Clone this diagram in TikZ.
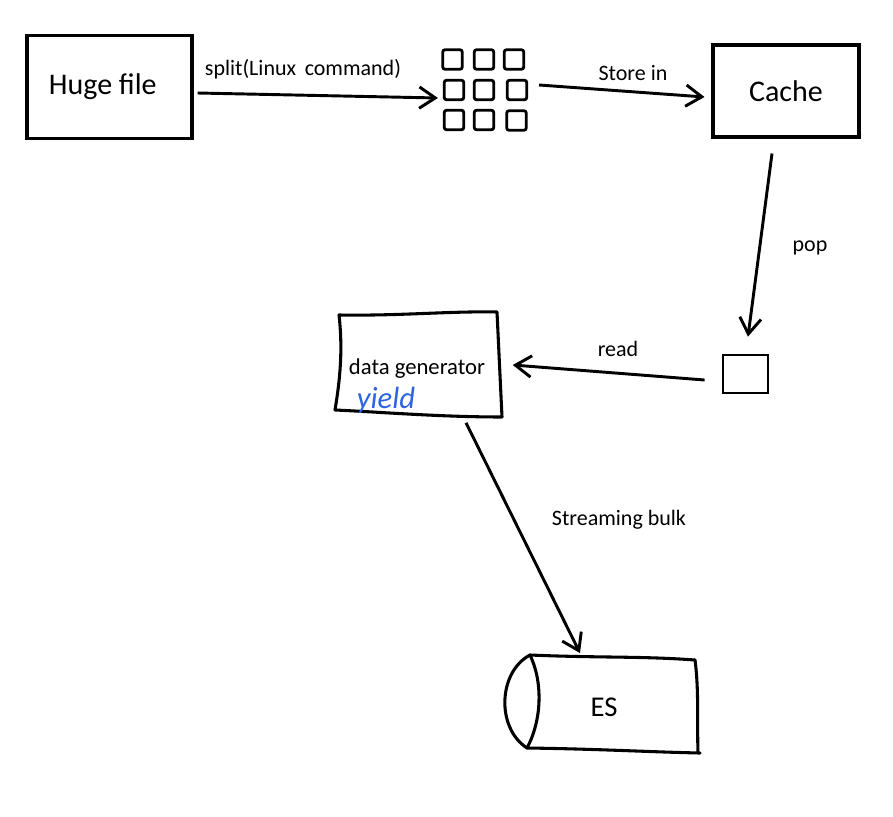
\documentclass[tikz,border=0pt]{standalone}
\usepackage{fontspec}
\setmainfont{Carlito}
\usetikzlibrary{arrows.meta,calc}
\definecolor{penblue}{RGB}{45,100,225}
\tikzset{
  bigbox/.style={draw, line width=2.3pt, minimum width=123.75pt, minimum height=77pt, inner sep=0pt, font=\fontsize{22.5}{26}\selectfont},
  cell/.style={draw, line width=2.1pt, rounded corners=1.5pt, minimum width=14.5pt, minimum height=14.5pt, inner sep=0pt},
  lbl/.style={font=\fontsize{16.5}{19}\selectfont, inner sep=0pt},
  arr/.style={line width=2.2pt, -{Straight Barb[length=12pt,width=16pt,line width=2.2pt]}},
  hand/.style={line width=2.3pt, line cap=round, line join=round},
  ghost/.style={inner sep=0pt}
}
\begin{document}
\begin{tikzpicture}[x=0.75pt,y=-0.75pt]
\useasboundingbox (0,0) rectangle (893,817);

% Huge file
\node[bigbox] (huge) at (109.5,87) {\hspace*{-10pt}Huge file};
% Cache
\node[bigbox, minimum width=109.5pt, minimum height=69pt] (cache) at (786,91) {Cache};

% grid of chunks
\node[cell] (g11) at (452.5,59.5) {};
\node[cell] (g12) at (484,59.5) {};
\node[cell] (g13) at (514,59.5) {};
\node[cell] (g21) at (454,90) {};
\node[cell] (g22) at (484,90) {};
\node[cell] (g23) at (517,90) {};
\node[cell] (g31) at (454,120) {};
\node[cell] (g32) at (484,120) {};
\node[cell] (g33) at (516.5,120.5) {};

% small square (popped chunk)
\node[draw, line width=2.1pt, minimum width=33.75pt, minimum height=28.5pt, inner sep=0pt] (sq) at (745.5,374) {};

% data generator (hand-drawn box)
\draw[hand] (339,315) .. controls (400,316) and (450,311) .. (497,312)
  -- (502,417) .. controls (440,417) and (380,412) .. (335,410)
  .. controls (340,380) and (343,350) .. (339,315) -- cycle;
\node[ghost, minimum width=120pt, minimum height=78pt] (dg) at (419,364) {};
\node[lbl, font=\fontsize{17}{20}\selectfont] (dgtext) at (417,369) {data generator};
\node[ghost, text=penblue, font=\fontsize{23}{25}\selectfont\itshape] (yield) at (386,400) {yield};

% ES cylinder
\draw[hand] (530,655) .. controls (498,672) and (496,728) .. (527,748);
\draw[hand] (530,655) .. controls (543,682) and (542,720) .. (527,748);
\draw[hand] (530,655) .. controls (600,658) and (640,656) .. (695,660);
\draw[hand] (695,660) .. controls (699,690) and (697,720) .. (698,753);
\draw[hand] (527,748) .. controls (600,749) and (650,752) .. (700,753);
\node[ghost, minimum width=120pt, minimum height=70pt] (es) at (612,704) {};
\node[ghost, font=\fontsize{21.5}{24}\selectfont] (estext) at (604,707) {ES};

% connectors
\draw[arr] ($(huge.east)+(4,6)$) -- ($(g21.west)+(-5,8)$);
\draw[arr] ($(g23.east)+(11,-5)$) -- ($(cache.west)+(-7,6)$);
\draw[arr] ($(cache.south)+(-14,15)$) -- ($(sq.north)+(2.5,-17)$);
\draw[arr] ($(sq.west)+(-17,6)$) -- ($(dg.east)+(13.5,1)$);
\draw[arr] ($(dg.south)+(47,6.5)$) -- ($(es.north)+(-32,-4)$);

% labels
\node[lbl] (l1) at (303,69) {split(Linux\, command)};
\node[lbl] (l2) at (633,73) {Store in};
\node[lbl] (l3) at (810,248) {pop};
\node[lbl] (l4) at (618,349) {read};
\node[lbl] (l5) at (619,520) {Streaming bulk};
\end{tikzpicture}
\end{document}
